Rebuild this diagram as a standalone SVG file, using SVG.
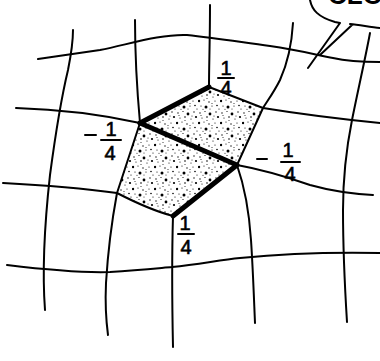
<svg xmlns="http://www.w3.org/2000/svg" width="380" height="361" viewBox="0 0 380 361">
<style>
.g{fill:none;stroke:#000;stroke-width:2;stroke-linecap:round;stroke-linejoin:round}
.t{fill:none;stroke:#000;stroke-width:5;stroke-linecap:round;stroke-linejoin:round}
.l{font-family:"Liberation Sans",Arial,sans-serif;font-size:20px;fill:#000;stroke:#000;stroke-width:0.6;text-anchor:middle}
.f{stroke:#000;stroke-width:2;stroke-linecap:round}
.b{font-family:"Liberation Sans",Arial,sans-serif;font-size:26px;font-weight:bold;fill:#000}
</style>
<defs>
<pattern id="st" width="22" height="22" patternUnits="userSpaceOnUse">
<rect width="22" height="22" fill="#fff"/>
<g fill="#000">
<circle cx="2" cy="3" r="0.7"/><circle cx="7" cy="1.5" r="0.6"/><circle cx="12" cy="4" r="1.4"/><circle cx="18" cy="2" r="0.7"/>
<circle cx="4" cy="8" r="0.6"/><circle cx="9" cy="7" r="0.8"/><circle cx="15" cy="9" r="0.6"/><circle cx="20" cy="7" r="1.1"/>
<circle cx="1" cy="13" r="1.2"/><circle cx="6" cy="12" r="0.6"/><circle cx="11" cy="14" r="0.7"/><circle cx="17" cy="13" r="0.6"/>
<circle cx="3" cy="18" r="0.6"/><circle cx="8" cy="19" r="1.5"/><circle cx="14" cy="18" r="0.6"/><circle cx="19" cy="17.5" r="0.8"/>
<circle cx="12" cy="21" r="0.5"/><circle cx="21" cy="21" r="0.6"/><circle cx="5" cy="21.3" r="0.5"/><circle cx="16" cy="6" r="0.5"/>
<circle cx="9" cy="10.5" r="0.5"/><circle cx="14" cy="15.5" r="0.5"/><circle cx="3" cy="5.5" r="0.5"/>
</g>
</pattern>
</defs>
<g id="shade">
<path d="M140,123 L209,87 L263,108 L237,165 Z" fill="url(#st)"/>
<path d="M140,123 L237,165 L173,216 Q150,210 117,193 Z" fill="url(#st)"/>
</g>
<g id="grid">
<path class="g" d="M38,59 C60,56 80,53 100,50 C130,44 160,34 187,35 C215,38 240,42 270,46 C300,50 320,56 333,58 C350,62 365,62 380,62"/>
<path class="g" d="M16,108 C50,109 90,112 140,123"/>
<path class="g" d="M263,108 C300,114 340,119 380,123"/>
<path class="g" d="M3,183 C40,185 80,188 117,193"/>
<path class="g" d="M237,165 C265,170 290,178 310,185 C335,192 355,194 373,195"/>
<path class="g" d="M7,265 C40,269 80,273 110,272 C140,270 160,268 172,267 C200,264 220,260 240,258 C280,254 330,252 380,253"/>
<path class="g" d="M73,30 C73,42 72,50 68,70 C62,95 56,130 50,175 C45,220 42,270 45,310"/>
<path class="g" d="M135,20 C135,60 137,90 140,123"/>
<path class="g" d="M117,193 C112,220 108,250 106,283 C105,305 106,320 108,335"/>
<path class="g" d="M210,5 C210,40 209,65 209,87"/>
<path class="g" d="M173,216 C172,250 172,300 173,347"/>
<path class="g" d="M293,23 C292,40 289,60 280,80 C274,92 268,100 263,108"/>
<path class="g" d="M237,165 C244,185 249,210 251,240 C253,270 254,300 255,323"/>
<path class="g" d="M370,33 C366,55 358,90 352,120 C346,150 343,180 343,210 C343,250 345,290 347,322"/>
</g>
<g id="quad-edges">
<path class="g" d="M209,87 L263,108 L237,165"/>
<path class="g" d="M140,123 L117,193 Q150,210 173,216"/>
<path class="t" d="M140,123 L209,87"/>
<path class="t" d="M140,123 L237,165 L173,216"/>
</g>
<g id="bubble">
<path class="g" d="M310,0 C312,10 318,17 335,22 L340,23 L308,68 M352,25 L320,55 M350,24 C360,25 370,27 380,28"/>
<text class="b" x="328" y="4">CLO</text>
</g>
<g id="labels">
<text class="l" x="226" y="75">1</text>
<line class="f" x1="218" y1="78" x2="234" y2="78"/>
<text class="l" x="226" y="95">4</text>
<line class="f" x1="85" y1="135" x2="96" y2="135"/>
<text class="l" x="111" y="136">1</text>
<line class="f" x1="101" y1="140" x2="121" y2="140"/>
<text class="l" x="110" y="160">4</text>
<line class="f" x1="257" y1="159" x2="267" y2="159"/>
<text class="l" x="288" y="157">1</text>
<line class="f" x1="281" y1="162" x2="300" y2="162"/>
<text class="l" x="290" y="181">4</text>
<text class="l" x="185" y="230">1</text>
<line class="f" x1="178" y1="234" x2="194" y2="234"/>
<text class="l" x="186" y="254">4</text>
</g>
</svg>
